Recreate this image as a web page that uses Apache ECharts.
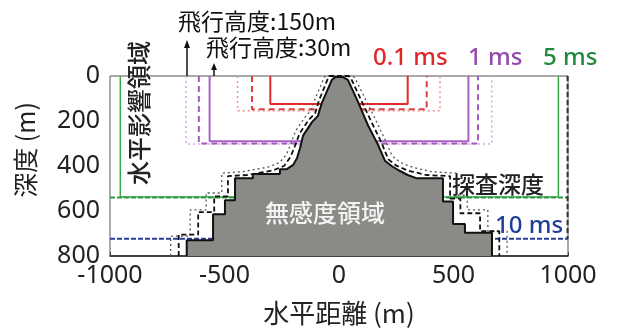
<!DOCTYPE html>
<html><head><meta charset="utf-8">
<script src="https://cdn.jsdelivr.net/npm/echarts@6/dist/echarts.min.js"></script>
<style>html,body{margin:0;padding:0;background:#fff}#c{width:617px;height:331px}</style>
</head><body><div id="c"></div>
<script>
// ---- data (x: horizontal distance m, y: depth m) ----
const xTicks = [-1000, -500, 0, 500, 1000];
const yTicks = [0, 200, 400, 600, 800];
const red150 = [[-300, 0], [-300, 125], [300, 125], [300, 0]];
const red30 = [[-380, 0], [-380, 148], [383, 148], [383, 0]];
const redDot = [[-443, 0], [-443, 155], [441, 155], [441, 0]];
const purple150 = [[-565, 0], [-565, 290], [565, 290], [565, 0]];
const purple30 = [[-612, 0], [-612, 300], [607, 300], [607, 0]];
const purpleDot = [[-668, 0], [-668, 302], [667, 302], [667, 0]];
const green150 = [[-955, 0], [-955, 538], [958, 538], [958, 0]];
const green30 = [[-1000, 540], [1000, 540]];
const edge5ms = [[998, 0], [998, 723]];
const blue10 = [[-1000, 723], [1000, 723]];
const insensitive = [
  [-665, 800], [-665, 730], [-550, 730], [-550, 615], [-498, 615], [-498, 552], [-454, 552], [-454, 455],
  [-376, 455], [-376, 436], [-258, 436], [-258, 414], [-228, 414], [-200, 395], [-183, 364], [-170, 320],
  [-157, 265], [-118, 205], [-92, 177], [-74, 117], [-31, 17], [-15, 4], [15, 4], [39, 17], [83, 115],
  [127, 220], [170, 305], [201, 377], [230, 400], [262, 420], [300, 440], [340, 455], [454, 455],
  [454, 558], [498, 558], [498, 658], [550, 658], [550, 697], [668, 697], [668, 800]
];
const depthDashed = [
  [-700, 800], [-700, 705], [-615, 705], [-615, 605], [-545, 605], [-545, 535], [-485, 535], [-485, 445],
  [-400, 440], [-290, 420], [-240, 400], [-212, 360], [-192, 310], [-172, 255], [-132, 195], [-104, 165],
  [-88, 110], [-48, 10], [-42, 0], [42, 0], [52, 10], [98, 110], [142, 205], [185, 295], [215, 370],
  [250, 398], [300, 420], [380, 440], [485, 445], [485, 545], [530, 545], [530, 610], [616, 610],
  [616, 690], [700, 690], [700, 800]
];
const depthDotted = [
  [-735, 800], [-735, 712], [-650, 712], [-650, 595], [-580, 595], [-580, 520], [-512, 520], [-512, 432],
  [-420, 425], [-310, 405], [-260, 385], [-230, 350], [-210, 300], [-190, 245], [-150, 185], [-120, 150],
  [-104, 100], [-66, 10], [-60, 0], [60, 0], [70, 10], [114, 100], [158, 190], [202, 285], [232, 355],
  [270, 385], [320, 405], [400, 425], [512, 432], [512, 530], [560, 530], [560, 595], [650, 595],
  [650, 690], [734, 690], [734, 800]
];
const annotations = {
  alt150: '飛行高度:150m', alt30: '飛行高度:30m',
  t01: '0.1 ms', t1: '1 ms', t5: '5 ms', t10: '10 ms',
  depth: '探査深度', insens: '無感度領域', horiz: '水平影響領域'
};

const chart = echarts.init(document.getElementById('c'));
const JP = '"Noto Sans CJK JP", "Noto Sans", sans-serif';
function ln(data, color, type, width, z) {
  return { type: 'line', data, symbol: 'none', z, silent: true, animation: false,
    lineStyle: { color, type, width } };
}
const option = {
  animation: false,
  grid: { left: 110, right: 49, top: 76, bottom: 70, show: true, borderColor: '#555', borderWidth: 1 },
  xAxis: {
    type: 'value', min: xTicks[0], max: xTicks[xTicks.length - 1], interval: 500,
    axisLine: { onZero: false, lineStyle: { color: '#222', width: 1.5 } },
    axisTick: { inside: true, length: 4, lineStyle: { color: '#444' } },
    splitLine: { show: false },
    axisLabel: { fontSize: 25, color: '#222', margin: 7, fontFamily: '"Noto Sans", sans-serif',
      formatter: v => String(v) },
    name: '水平距離 (m)', nameLocation: 'middle', nameGap: 44,
    nameTextStyle: { fontSize: 26, color: '#222', fontFamily: JP }
  },
  yAxis: {
    type: 'value', inverse: true, min: yTicks[0], max: yTicks[yTicks.length - 1], interval: 200,
    axisLine: { show: true, lineStyle: { color: '#222', width: 1.5 } },
    axisTick: { show: false },
    splitLine: { show: false },
    axisLabel: { fontSize: 25, color: '#222', margin: 10, fontFamily: '"Noto Sans", sans-serif',
      formatter: v => String(v) }
  },
  series: [
    ln(blue10, '#2a3c9c', [5, 2], 2, 2),
    ln(green150, '#3aa84a', 'solid', 1.5, 2),
    ln(green30, '#2e9a40', [5, 2], 2, 2),
    ln(edge5ms, '#333', [5, 3], 2, 2),
    ln(purpleDot, '#d4a6e4', [2, 3], 1.5, 2),
    ln(purple30, '#a55cc2', [6, 4], 2, 2),
    ln(purple150, '#a862c4', 'solid', 2, 2),
    ln(redDot, '#f09090', [2, 3], 1.5, 2),
    ln(red30, '#e23c3c', [6, 4], 2, 2),
    ln(red150, '#e62a2a', 'solid', 2, 2),
    ln(depthDotted, '#555', [2, 3], 1.3, 3),
    ln(depthDashed, '#111', [5, 3], 1.8, 3),
    { type: 'line', data: insensitive, symbol: 'none', z: 4, silent: true, animation: false,
      lineStyle: { color: '#111', width: 2 },
      areaStyle: { color: '#8a8a86', opacity: 1, origin: 'end' } }
  ],
  graphic: [
    { type: 'text', x: 25, y: 150, rotation: Math.PI / 2, z: 100,
      style: { text: '深度 (m)', font: '25px ' + JP, fill: '#222', align: 'center', verticalAlign: 'middle' } },
    { type: 'text', x: 139, y: 113, rotation: Math.PI / 2, z: 100,
      style: { text: annotations.horiz, font: '500 24px ' + JP, fill: '#222', align: 'center', verticalAlign: 'middle' } },
    { type: 'text', x: 178, y: 21, z: 100,
      style: { text: annotations.alt150, font: '23px ' + JP, fill: '#111', align: 'left', verticalAlign: 'middle' } },
    { type: 'text', x: 206, y: 47, z: 100,
      style: { text: annotations.alt30, font: '23px ' + JP, fill: '#111', align: 'left', verticalAlign: 'middle' } },
    { type: 'text', x: 373, y: 58, z: 100,
      style: { text: annotations.t01, font: '500 24px "Noto Sans", sans-serif', fill: '#e0262b', align: 'left', verticalAlign: 'middle' } },
    { type: 'text', x: 468, y: 58, z: 100,
      style: { text: annotations.t1, font: '500 24px "Noto Sans", sans-serif', fill: '#944aac', align: 'left', verticalAlign: 'middle' } },
    { type: 'text', x: 543, y: 58, z: 100,
      style: { text: annotations.t5, font: '500 24px "Noto Sans", sans-serif', fill: '#1f8a3a', align: 'left', verticalAlign: 'middle' } },
    { type: 'text', x: 495, y: 226, z: 100,
      style: { text: annotations.t10, font: '500 24px "Noto Sans", sans-serif', fill: '#1f3f9a', align: 'left', verticalAlign: 'middle' } },
    { type: 'text', x: 452, y: 184, z: 100,
      style: { text: annotations.depth, font: '500 23px ' + JP, fill: '#222', align: 'left', verticalAlign: 'middle' } },
    { type: 'text', x: 325, y: 213, z: 100,
      style: { text: annotations.insens, font: '500 24px ' + JP, fill: '#f4f4f4', align: 'center', verticalAlign: 'middle' } },
    { type: 'line', z: 100, shape: { x1: 187, y1: 47, x2: 187, y2: 76 }, style: { stroke: '#111', lineWidth: 1.5 } },
    { type: 'polygon', z: 100, shape: { points: [[187, 40], [184, 48], [190, 48]] }, style: { fill: '#111' } },
    { type: 'line', z: 100, shape: { x1: 214, y1: 69, x2: 214, y2: 76 }, style: { stroke: '#111', lineWidth: 1.5 } },
    { type: 'polygon', z: 100, shape: { points: [[214, 63], [211, 70], [217, 70]] }, style: { fill: '#111' } }
  ]
};
chart.setOption(option);
</script></body></html>
